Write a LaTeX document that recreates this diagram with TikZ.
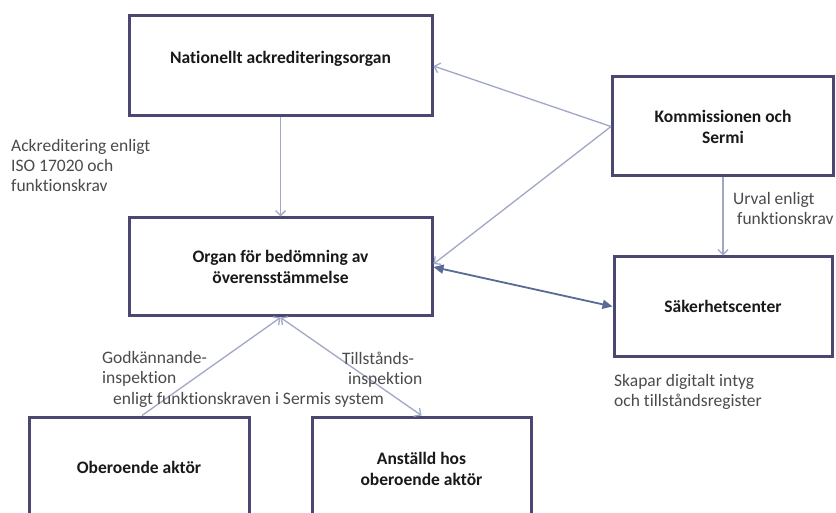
\documentclass[tikz,border=0pt]{standalone}
\usepackage{fontspec}
\setmainfont{Carlito}[Ligatures=NoCommon]
\usetikzlibrary{arrows.meta}
\definecolor{boxline}{RGB}{74,71,112}
\definecolor{arrlight}{RGB}{160,168,198}
\definecolor{arrdark}{RGB}{88,106,150}
\definecolor{labeltext}{RGB}{75,75,75}
\begin{document}
\begin{tikzpicture}[x=1pt,y=-1pt,
  box/.style={draw=boxline, line width=3pt, fill=white, inner sep=0pt, align=center,
    font=\fontsize{17.5}{21}\selectfont\bfseries, text=black!90},
  lbl/.style={inner sep=0pt, anchor=west, align=left,
    font=\fontsize{17.5}{20}\selectfont, text=labeltext},
  lightarrow/.style={draw=arrlight, line width=1.3pt, -{Straight Barb[length=5pt,width=10pt]}},
  lightboth/.style={draw=arrlight, line width=1.3pt, {Straight Barb[length=5pt,width=10pt]}-{Straight Barb[length=5pt,width=10pt]}},
  darkboth/.style={draw=arrdark, line width=1.8pt, {Triangle[length=10pt,width=9pt]}-{Triangle[length=10pt,width=9pt]}}
]
\useasboundingbox (0,0) rectangle (836,513);
\fill[white] (0,0) rectangle (836,513);
\clip (0,0) rectangle (836,513);

% boxes
\node[box, minimum width=303pt, minimum height=100pt, text depth=17pt] (nat) at (280.5,66) {Nationellt ackrediteringsorgan};
\node[box, minimum width=221pt, minimum height=99pt] (kom) at (723,126.5) {Kommissionen och\\Sermi};
\node[box, minimum width=303pt, minimum height=98pt] (organ) at (280.5,267) {Organ för bedömning av\\överensstämmelse};
\node[box, minimum width=218pt, minimum height=99pt] (sak) at (723,306.5) {Säkerhetscenter};
\node[box, minimum width=220pt, minimum height=100pt] (obe) at (139,467) {Oberoende aktör};
\node[box, minimum width=219pt, minimum height=104pt] (anst) at (421.5,469) {Anställd hos\\oberoende aktör};

% connectors
\draw[lightarrow] (nat.south) -- (organ.north);
\draw[lightarrow] (kom.west) -- (nat.east);
\draw[lightarrow] (kom.west) -- ([yshift=3pt]organ.east);
\draw[darkboth] (organ.east) -- (sak.west);
\draw[lightarrow] (kom.south) -- (sak.north);
\draw[lightarrow] ([xshift=3pt]obe.north) -- (organ.south);
\draw[lightboth] (organ.south) -- (anst.north);

% labels
\node[lbl] (l1) at (11,165) {Ackreditering enligt\\ISO 17020 och\\funktionskrav};
\node[lbl] (l2) at (733,208) {Urval enligt\\\hspace*{4pt}funktionskrav};
\node[lbl] (l3) at (614,392) {Skapar digitalt intyg\\och tillståndsregister};
\node[lbl] (l4) at (102,369) {Godkännande-\\inspektion};
\node[lbl] (l5) at (113,400) {enligt funktionskraven i Sermis system};
\node[lbl] (l6) at (342,369.5) {Tillstånds-\\\hspace*{6pt}inspektion};
\end{tikzpicture}
\end{document}
